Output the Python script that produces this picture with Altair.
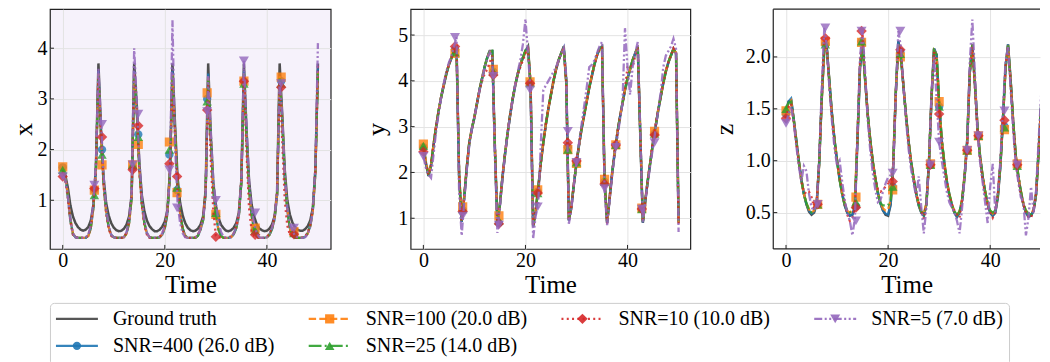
import altair as alt
import pandas as pd

FONT = "Liberation Serif"

SERIES = ["Ground truth", "SNR=400 (26.0 dB)", "SNR=100 (20.0 dB)",
          "SNR=25 (14.0 dB)", "SNR=10 (10.0 dB)", "SNR=5 (7.0 dB)"]
COLORS = ["#444444", "#1f77b4", "#ff7f0e", "#2ca02c", "#d62728", "#9467bd"]
DASHES = [[1, 0], [1, 0], [7.4, 3.2], [12.8, 3.2, 2, 3.2], [2, 3.3], [8, 2.5, 2, 2.5, 2, 2.5]]
SHAPES = [None, "circle", "square", "triangle-up", "diamond", "triangle-down"]
MSIZE = [0, 70, 85, 90, 110, 100]

TIME = [k / 2 for k in range(101)]
MARK_TIME = [0, 6.2, 7.7, 13.7, 14.8, 20.9, 22.4, 28.3, 30.0, 35.5, 37.7, 42.8, 45.3]

XTICKS = [0, 20, 40]

# ---------------- x ----------------
X_GT = [1.55,1.50,1.25,0.90,0.68,0.55,0.47,0.42,0.40,0.42,
        0.47,0.60,0.90,1.65,3.70,2.40,1.45,0.95,0.70,0.55,
        0.46,0.41,0.39,0.40,0.44,0.52,0.68,1.10,3.70,2.90,
        1.75,1.10,0.78,0.60,0.49,0.43,0.39,0.39,0.42,0.48,
        0.58,0.80,1.55,3.70,2.50,1.45,0.95,0.70,0.55,0.46,
        0.41,0.39,0.40,0.44,0.52,0.68,1.20,3.70,2.30,1.35,
        0.90,0.66,0.52,0.45,0.40,0.39,0.41,0.46,0.55,0.75,
        1.40,3.70,2.40,1.40,0.92,0.68,0.53,0.45,0.41,0.39,
        0.40,0.44,0.52,0.68,1.15,3.70,2.70,1.60,1.00,0.72,
        0.56,0.47,0.42,0.40,0.40,0.43,0.49,0.60,0.85,1.60,
        3.70]
X_400 = [1.63,1.45,1.10,0.62,0.34,0.27,0.26,0.26,0.26,0.26,
         0.30,0.45,0.85,1.60,3.55,2.30,1.35,0.80,0.48,0.32,
         0.27,0.26,0.26,0.26,0.27,0.35,0.55,1.05,3.55,2.80,
         1.65,0.95,0.55,0.35,0.27,0.26,0.26,0.26,0.27,0.32,
         0.45,0.72,1.50,3.55,2.40,1.30,0.75,0.45,0.30,0.26,
         0.26,0.26,0.26,0.30,0.42,0.60,1.15,3.50,2.20,1.20,
         0.70,0.42,0.29,0.26,0.26,0.26,0.27,0.33,0.45,0.68,
         1.35,3.55,2.30,1.25,0.72,0.43,0.29,0.26,0.26,0.26,
         0.27,0.32,0.43,0.62,1.10,3.45,2.60,1.45,0.80,0.45,
         0.30,0.26,0.26,0.26,0.26,0.28,0.35,0.50,0.80,1.55,
         3.60]
X_100 = [1.66,1.47,1.12,0.64,0.35,0.27,0.26,0.26,0.26,0.26,
         0.29,0.44,0.83,1.58,3.50,2.25,1.32,0.78,0.47,0.31,
         0.27,0.26,0.26,0.26,0.27,0.34,0.54,1.02,3.50,2.75,
         1.62,0.93,0.54,0.34,0.27,0.26,0.26,0.26,0.27,0.33,
         0.46,0.75,1.55,3.50,2.38,1.28,0.74,0.44,0.29,0.26,
         0.26,0.26,0.26,0.31,0.43,0.62,1.18,3.45,2.25,1.22,
         0.72,0.43,0.29,0.26,0.26,0.26,0.27,0.34,0.46,0.70,
         1.38,3.50,2.28,1.24,0.71,0.44,0.30,0.26,0.26,0.26,
         0.27,0.32,0.44,0.64,1.12,3.45,2.65,1.48,0.82,0.46,
         0.31,0.26,0.26,0.26,0.26,0.28,0.34,0.49,0.78,1.52,
         3.55]
X_25 = [1.60,1.44,1.08,0.60,0.33,0.27,0.26,0.26,0.26,0.26,
        0.30,0.46,0.86,1.62,3.45,2.28,1.34,0.79,0.47,0.31,
        0.27,0.26,0.26,0.26,0.27,0.35,0.56,1.06,3.45,2.78,
        1.64,0.94,0.55,0.35,0.27,0.26,0.26,0.26,0.27,0.32,
        0.45,0.73,1.52,3.45,2.36,1.27,0.74,0.45,0.30,0.26,
        0.26,0.26,0.26,0.30,0.42,0.61,1.16,3.40,2.22,1.21,
        0.73,0.44,0.30,0.26,0.26,0.26,0.27,0.33,0.45,0.69,
        1.36,3.50,2.27,1.23,0.70,0.42,0.29,0.26,0.26,0.26,
        0.27,0.32,0.43,0.63,1.11,3.40,2.58,1.44,0.80,0.45,
        0.30,0.26,0.26,0.26,0.26,0.28,0.35,0.50,0.81,1.56,
        3.50]
X_10 = [1.47,1.40,1.05,0.58,0.32,0.27,0.26,0.26,0.26,0.26,
        0.31,0.48,0.90,1.65,3.45,2.35,1.30,0.75,0.44,0.30,
        0.26,0.26,0.26,0.26,0.28,0.36,0.58,1.10,3.50,2.85,
        1.60,0.90,0.50,0.32,0.26,0.26,0.26,0.26,0.28,0.34,
        0.48,0.78,1.50,3.40,2.30,1.25,0.70,0.42,0.28,0.26,
        0.26,0.26,0.27,0.32,0.45,0.64,1.20,3.30,1.80,0.80,
        0.30,0.27,0.26,0.26,0.26,0.27,0.29,0.35,0.48,0.72,
        1.40,3.45,2.00,0.85,0.40,0.30,0.26,0.26,0.26,0.26,
        0.28,0.34,0.46,0.66,1.15,3.35,2.20,1.00,0.50,0.32,
        0.30,0.27,0.26,0.26,0.27,0.29,0.36,0.52,0.85,1.60,
        3.65]
X_5 = [1.47,1.42,1.08,0.62,0.35,0.27,0.26,0.26,0.26,0.27,
       0.32,0.50,0.95,1.70,3.60,2.55,1.50,0.85,0.50,0.32,
       0.27,0.26,0.26,0.26,0.28,0.37,0.60,1.15,4.00,2.95,
       1.80,1.05,0.60,0.36,0.27,0.26,0.26,0.26,0.28,0.35,
       0.50,0.80,1.45,4.55,2.10,0.95,0.55,0.35,0.27,0.26,
       0.26,0.26,0.27,0.31,0.44,0.62,1.10,3.45,2.40,1.40,
       0.95,0.60,0.38,0.28,0.26,0.26,0.27,0.34,0.48,0.72,
       1.40,3.75,2.50,1.40,0.80,0.55,0.35,0.27,0.26,0.26,
       0.27,0.33,0.45,0.66,1.15,3.35,2.70,1.50,0.85,0.52,
       0.40,0.30,0.27,0.26,0.26,0.27,0.33,0.48,0.80,1.65,
       4.10]
XM_400 = [1.65,1.20,2.00,1.65,2.30,1.90,1.20,3.00,0.72,3.35,0.42,3.35,0.35]
XM_100 = [1.66,1.20,1.70,1.70,2.10,2.15,1.15,3.12,0.72,3.35,0.45,3.43,0.38]
XM_25 = [1.60,1.10,1.90,1.70,2.25,2.00,1.25,2.95,0.75,3.30,0.40,3.30,0.35]
XM_10 = [1.47,1.23,2.25,1.60,2.47,1.72,1.47,2.78,0.28,3.35,0.32,3.23,0.33]
XM_5 = [1.47,1.30,2.50,1.70,2.70,1.60,0.85,2.75,1.00,3.75,0.75,3.30,0.45]

# ---------------- y ----------------
Y_GT = [2.55,2.20,1.92,2.15,2.60,3.00,3.35,3.65,3.90,4.15,
        4.35,4.50,4.65,4.72,1.90,0.92,1.45,2.10,2.65,2.95,
        3.20,3.50,3.80,4.05,4.30,4.50,4.65,4.65,2.60,0.85,
        1.30,1.90,2.40,2.85,3.25,3.60,3.90,4.15,4.35,4.50,
        4.65,4.75,3.90,0.82,1.15,1.65,2.20,2.65,3.05,3.40,
        3.70,4.00,4.25,4.45,4.60,4.75,4.00,0.95,1.25,1.75,
        2.20,2.60,2.95,3.25,3.55,3.85,4.10,4.35,4.55,4.70,
        4.75,1.80,0.90,1.45,2.00,2.45,2.85,3.20,3.50,3.80,
        4.05,4.25,4.45,4.60,4.75,2.80,0.90,1.40,1.85,2.25,
        2.65,3.00,3.35,3.65,3.95,4.20,4.40,4.55,4.70,4.60,
        0.90]
Y_400 = [2.55,2.20,1.93,2.15,2.60,3.00,3.35,3.65,3.92,4.15,
         4.35,4.50,4.65,4.70,1.95,0.92,1.45,2.10,2.65,2.95,
         3.20,3.50,3.80,4.05,4.30,4.50,4.65,4.65,2.55,0.86,
         1.30,1.90,2.40,2.85,3.25,3.60,3.90,4.15,4.35,4.50,
         4.65,4.72,3.90,0.84,1.15,1.65,2.20,2.65,3.05,3.40,
         3.70,4.00,4.25,4.45,4.60,4.72,3.95,0.95,1.25,1.75,
         2.20,2.60,2.95,3.25,3.55,3.85,4.10,4.35,4.55,4.70,
         4.72,1.80,0.90,1.45,2.00,2.45,2.85,3.20,3.50,3.80,
         4.05,4.25,4.45,4.60,4.72,2.80,0.91,1.40,1.85,2.25,
         2.65,3.00,3.35,3.65,3.95,4.20,4.40,4.55,4.68,4.60,
         0.92]
Y_100 = [2.62,2.25,1.95,2.17,2.62,3.02,3.36,3.66,3.92,4.16,
         4.36,4.51,4.64,4.68,2.00,0.95,1.47,2.12,2.66,2.96,
         3.21,3.51,3.81,4.06,4.31,4.50,4.64,4.64,2.60,0.88,
         1.32,1.92,2.41,2.86,3.26,3.61,3.91,4.16,4.36,4.50,
         4.64,4.72,3.95,0.85,1.17,1.67,2.21,2.66,3.06,3.41,
         3.71,4.01,4.26,4.46,4.60,4.70,3.90,0.97,1.27,1.77,
         2.21,2.61,2.96,3.26,3.56,3.86,4.11,4.36,4.55,4.68,
         4.70,1.85,0.92,1.47,2.01,2.46,2.86,3.21,3.51,3.81,
         4.06,4.26,4.46,4.60,4.70,2.85,0.93,1.42,1.87,2.27,
         2.67,3.02,3.36,3.66,3.96,4.21,4.41,4.55,4.68,4.62,
         0.92]
Y_25 = [2.58,2.22,1.94,2.16,2.61,3.01,3.36,3.66,3.91,4.16,
        4.36,4.50,4.64,4.70,1.98,0.93,1.46,2.11,2.66,2.96,
        3.22,3.52,3.82,4.06,4.31,4.51,4.66,4.66,2.58,0.87,
        1.31,1.91,2.42,2.87,3.27,3.62,3.92,4.17,4.37,4.52,
        4.67,4.74,3.92,0.84,1.16,1.66,2.21,2.66,3.06,3.41,
        3.71,4.01,4.26,4.46,4.61,4.74,3.98,0.96,1.26,1.76,
        2.21,2.61,2.96,3.26,3.56,3.86,4.11,4.36,4.56,4.71,
        4.74,1.82,0.91,1.46,2.01,2.46,2.86,3.21,3.51,3.81,
        4.06,4.26,4.46,4.61,4.74,2.82,0.92,1.41,1.86,2.26,
        2.66,3.01,3.36,3.66,3.96,4.21,4.41,4.56,4.71,4.62,
        0.90]
Y_10 = [2.45,2.18,1.95,2.18,2.62,3.02,3.36,3.66,3.92,4.16,
        4.36,4.50,4.62,4.70,2.05,0.95,1.46,2.12,2.66,2.96,
        3.22,3.52,3.80,4.00,4.15,4.25,4.40,4.55,2.65,0.86,
        1.32,1.92,2.42,2.87,3.27,3.62,3.92,4.15,4.30,4.45,
        4.60,4.70,3.95,0.82,1.15,1.62,2.18,2.66,3.06,3.41,
        3.71,4.01,4.26,4.46,4.60,4.72,3.95,0.95,1.25,1.75,
        2.25,2.60,2.95,3.25,3.55,3.85,4.10,4.35,4.55,4.70,
        4.72,1.75,0.88,1.45,2.00,2.50,2.85,3.20,3.50,3.85,
        4.30,4.35,4.30,4.55,4.75,2.80,0.92,1.40,1.85,2.28,
        2.75,3.05,3.38,3.66,3.96,4.21,4.41,4.56,4.71,4.62,
        0.88]
Y_5 = [2.35,2.10,1.95,1.88,2.40,2.90,3.30,3.65,3.95,4.20,
       4.40,4.55,4.75,4.95,1.60,0.62,1.35,2.05,2.60,2.95,
       3.20,3.50,3.80,4.05,4.28,4.48,4.62,4.55,2.40,0.68,
       1.25,1.85,2.40,2.85,3.25,3.60,3.92,4.20,4.45,4.80,
       5.35,4.60,3.75,0.55,1.05,1.30,2.60,3.80,3.90,4.00,
       4.10,4.20,4.30,4.45,4.60,4.72,4.10,0.88,1.20,1.75,
       2.20,2.65,3.05,3.45,3.85,4.30,4.35,4.45,4.60,4.75,
       4.85,1.60,0.85,1.40,1.95,2.40,2.75,3.15,3.50,5.15,
       4.30,3.70,4.30,4.60,4.85,2.90,0.90,1.40,1.80,2.20,
       2.55,2.95,3.35,3.75,4.30,4.55,4.65,4.75,4.92,4.70,
       0.70]
YM_400 = [2.55,4.68,1.18,4.20,0.90,3.95,1.58,2.55,2.22,1.80,2.60,1.22,2.85]
YM_100 = [2.62,4.60,1.25,4.25,1.05,3.98,1.62,2.50,2.20,1.85,2.60,1.22,2.90]
YM_25 = [2.58,4.62,1.20,4.20,0.95,3.95,1.55,2.50,2.22,1.80,2.60,1.20,2.85]
YM_10 = [2.45,4.75,1.15,4.13,0.88,3.95,1.55,2.65,2.25,1.75,2.60,1.20,2.82]
YM_5 = [2.35,4.95,1.05,4.10,0.85,3.80,1.25,2.90,2.22,1.65,2.55,1.20,2.65]

# ---------------- z ----------------
Z_GT = [1.47,1.57,1.58,1.40,1.20,1.00,0.82,0.68,0.58,0.51,
        0.48,0.50,0.58,0.98,1.60,2.08,2.08,1.76,1.45,1.20,
        1.00,0.82,0.68,0.57,0.50,0.47,0.48,0.55,1.20,1.90,
        2.12,1.78,1.45,1.20,0.99,0.83,0.69,0.59,0.52,0.48,
        0.47,0.58,0.95,1.65,2.15,2.02,1.72,1.44,1.19,0.99,
        0.83,0.68,0.57,0.50,0.47,0.58,0.98,1.60,2.08,2.02,
        1.55,1.20,0.98,0.80,0.67,0.57,0.50,0.46,0.50,0.62,
        0.85,1.20,1.85,2.12,1.75,1.33,1.05,0.85,0.70,0.58,
        0.50,0.47,0.50,0.65,0.95,1.40,1.90,2.12,1.78,1.38,
        1.05,0.85,0.70,0.58,0.50,0.46,0.47,0.52,0.68,1.10,
        1.55]
Z_400 = [1.45,1.57,1.60,1.41,1.20,1.00,0.82,0.68,0.58,0.52,
         0.49,0.51,0.58,0.98,1.60,2.08,2.08,1.76,1.45,1.20,
         1.00,0.82,0.68,0.57,0.50,0.47,0.48,0.56,1.21,1.90,
         2.12,1.78,1.45,1.20,0.99,0.83,0.69,0.59,0.52,0.49,
         0.48,0.58,0.95,1.65,2.15,2.02,1.72,1.44,1.19,0.99,
         0.83,0.68,0.57,0.50,0.47,0.58,0.98,1.60,2.08,2.02,
         1.55,1.20,0.98,0.80,0.67,0.57,0.50,0.46,0.50,0.62,
         0.85,1.20,1.85,2.12,1.75,1.33,1.05,0.85,0.70,0.58,
         0.50,0.47,0.50,0.65,0.95,1.40,1.90,2.12,1.78,1.38,
         1.05,0.85,0.70,0.58,0.50,0.47,0.47,0.52,0.68,1.10,
         1.55]
Z_100 = [1.48,1.55,1.58,1.40,1.20,1.00,0.82,0.68,0.59,0.53,
         0.50,0.52,0.58,0.97,1.58,2.06,2.08,1.76,1.45,1.20,
         1.00,0.82,0.68,0.58,0.52,0.50,0.52,0.65,1.25,1.92,
         2.13,1.78,1.45,1.20,0.99,0.83,0.69,0.60,0.54,0.52,
         0.53,0.62,0.96,1.65,2.12,2.00,1.72,1.44,1.19,0.99,
         0.83,0.69,0.58,0.51,0.49,0.59,0.98,1.60,2.06,2.02,
         1.57,1.21,0.99,0.81,0.68,0.58,0.51,0.48,0.51,0.63,
         0.86,1.20,1.84,2.12,1.76,1.34,1.05,0.86,0.71,0.59,
         0.52,0.49,0.52,0.66,0.96,1.38,1.88,2.11,1.78,1.38,
         1.06,0.86,0.71,0.59,0.52,0.49,0.49,0.53,0.69,1.10,
         1.55]
Z_25 = [1.50,1.56,1.57,1.40,1.20,1.00,0.82,0.68,0.59,0.53,
        0.50,0.52,0.58,0.98,1.60,2.10,2.08,1.76,1.45,1.20,
        1.00,0.82,0.68,0.58,0.52,0.50,0.52,0.60,1.22,1.90,
        2.12,1.78,1.45,1.20,0.99,0.83,0.69,0.59,0.57,0.57,
        0.57,0.62,0.95,1.65,2.12,2.00,1.72,1.44,1.19,0.99,
        0.83,0.69,0.58,0.51,0.48,0.58,0.98,1.60,2.06,2.02,
        1.57,1.21,0.99,0.81,0.68,0.58,0.51,0.48,0.51,0.62,
        0.86,1.20,1.84,2.12,1.76,1.34,1.05,0.86,0.71,0.59,
        0.52,0.50,0.52,0.66,0.96,1.38,1.88,2.11,1.78,1.38,
        1.06,0.86,0.71,0.59,0.52,0.49,0.48,0.52,0.68,1.10,
        1.55]
Z_10 = [1.41,1.52,1.55,1.38,1.18,0.98,0.80,0.70,0.68,0.70,
        0.65,0.55,0.58,1.00,1.62,2.18,2.08,1.72,1.42,1.18,
        0.98,0.85,0.72,0.60,0.48,0.42,0.45,0.54,1.22,1.95,
        2.22,1.80,1.45,1.18,0.97,0.82,0.72,0.70,0.72,0.75,
        0.78,0.80,0.95,1.65,2.07,2.05,1.72,1.44,1.18,0.98,
        0.82,0.68,0.60,0.52,0.44,0.58,0.97,1.62,2.05,1.90,
        1.45,1.15,0.95,0.80,0.67,0.58,0.52,0.48,0.45,0.62,
        0.88,1.12,1.85,2.10,1.70,1.28,1.02,0.82,0.68,0.55,
        0.50,0.45,0.50,0.68,0.98,1.40,1.90,2.10,1.75,1.35,
        0.98,0.82,0.68,0.58,0.50,0.46,0.45,0.52,0.68,1.10,
        1.50]
Z_5 = [1.36,1.45,1.52,1.38,1.15,0.95,0.80,0.95,0.90,0.68,
       0.55,0.52,0.58,1.00,1.70,2.28,2.10,1.70,1.38,1.12,
       0.95,1.00,0.80,0.62,0.50,0.42,0.28,0.45,1.25,2.00,
       2.25,1.85,1.40,1.10,0.88,0.72,0.60,0.62,0.70,0.78,
       0.84,0.86,0.90,1.60,2.25,2.10,1.72,1.40,1.12,0.92,
       0.78,0.66,0.85,0.55,0.30,0.55,0.98,1.65,2.00,1.60,
       1.18,1.00,0.85,0.70,0.60,0.55,0.50,0.42,0.30,0.55,
       0.85,1.15,1.95,2.36,1.85,1.30,1.00,0.80,0.60,0.40,
       0.75,0.97,0.50,0.70,1.00,1.48,1.95,2.10,1.70,1.30,
       0.98,0.80,0.65,0.60,0.28,0.45,0.75,0.50,0.72,1.20,
       1.65]
ZM_400 = [1.45,0.58,2.12,0.56,2.15,0.75,2.05,0.96,1.52,1.10,1.24,1.33,0.96]
ZM_100 = [1.48,0.58,2.15,0.65,2.14,0.72,2.00,0.97,1.57,1.10,1.24,1.30,0.97]
ZM_25 = [1.50,0.58,2.12,0.60,2.15,0.75,2.03,0.96,1.52,1.10,1.24,1.32,0.95]
ZM_10 = [1.41,0.58,2.18,0.55,2.25,0.80,2.07,0.96,1.45,1.10,1.24,1.39,0.96]
ZM_5 = [1.36,0.58,2.28,0.42,2.25,0.88,2.25,0.96,1.18,1.10,1.24,1.48,0.96]

LINES = {
    "x": [X_GT, X_400, X_100, X_25, X_10, X_5],
    "y": [Y_GT, Y_400, Y_100, Y_25, Y_10, Y_5],
    "z": [Z_GT, Z_400, Z_100, Z_25, Z_10, Z_5],
}
MARKS = {
    "x": [None, XM_400, XM_100, XM_25, XM_10, XM_5],
    "y": [None, YM_400, YM_100, YM_25, YM_10, YM_5],
    "z": [None, ZM_400, ZM_100, ZM_25, ZM_10, ZM_5],
}

H = 240
PX_PER_T = 281 / 55.0


def panel(var, width, ydom, yticks, yfmt, bg, tpad, open_right=False):
    xdom = [-2.5, -2.5 + width / PX_PER_T]
    X = alt.X("t:Q", scale=alt.Scale(domain=xdom, nice=False, zero=False),
              axis=alt.Axis(values=XTICKS, title="Time", format="d", ticks=False, domain=False,
                            labelFont=FONT, labelFontSize=20, labelPadding=2, labelColor="black",
                            titleFont=FONT, titleFontSize=25, titleFontWeight="normal",
                            titlePadding=2, titleColor="black",
                            gridColor="#e3e3e3", gridWidth=1))
    Y = alt.Y("value:Q", scale=alt.Scale(domain=ydom, nice=False, zero=False),
              axis=alt.Axis(values=yticks, title=var, format=yfmt, ticks=False, domain=False,
                            labelFont=FONT, labelFontSize=20, labelPadding=3, labelColor="black",
                            titleFont=FONT, titleFontSize=26, titleFontWeight="normal",
                            titlePadding=tpad, titleColor="black",
                            gridColor="#e3e3e3", gridWidth=1))
    layers = [
        alt.Chart(pd.DataFrame({"t": XTICKS})).mark_rule(color="#222", strokeWidth=1).encode(
            x=X, y=alt.value(H), y2=alt.value(H - 4)),
        alt.Chart(pd.DataFrame({"value": yticks})).mark_rule(color="#222", strokeWidth=1).encode(
            y=Y, x=alt.value(0), x2=alt.value(4)),
    ]
    for i, name in enumerate(SERIES):
        d = pd.DataFrame({"t": TIME, "value": LINES[var][i]})
        layers.append(
            alt.Chart(d).mark_line(color=COLORS[i], strokeDash=DASHES[i],
                                   strokeWidth=2.5 if i == 0 else 2.3,
                                   opacity=0.95 if i == 0 else 0.85, clip=True).encode(x=X, y=Y))
        if SHAPES[i]:
            m = pd.DataFrame({"t": MARK_TIME, "value": MARKS[var][i]})
            layers.append(
                alt.Chart(m).mark_point(shape=SHAPES[i], filled=True, size=MSIZE[i],
                                        color=COLORS[i], opacity=0.8, clip=True).encode(x=X, y=Y))
    if open_right:
        frame = dict(color="#222222", strokeWidth=1.2)
        layers.append(alt.Chart(pd.DataFrame({"t": [0]})).mark_rule(**frame).encode(
            x=alt.value(0), y=alt.value(0), y2=alt.value(H)))
        layers.append(alt.Chart(pd.DataFrame({"t": [0]})).mark_rule(**frame).encode(
            x=alt.value(0), x2=alt.value(width), y=alt.value(0)))
        layers.append(alt.Chart(pd.DataFrame({"t": [0]})).mark_rule(**frame).encode(
            x=alt.value(0), x2=alt.value(width), y=alt.value(H)))
        view = alt.ViewBackground(fill=bg, stroke="transparent")
    else:
        view = alt.ViewBackground(fill=bg, stroke="#222222", strokeWidth=1.2)
    return alt.layer(*layers).properties(width=width, height=H, view=view)


p1 = panel("x", 281, [0.04, 4.77], [1, 2, 3, 4], "d", "#f6f2fb", 0)
p2 = panel("y", 280, [0.33, 5.565], [1, 2, 3, 4, 5], "d", "white", 8)
p3 = panel("z", 267, [0.15, 2.46], [0.5, 1.0, 1.5, 2.0], ".1f", "white", 8, open_right=True)

# ---------------- legend ----------------
LEG_COL = [0, 0, 1, 1, 2, 3]
LEG_ROW = [0, 1, 0, 1, 0, 0]
LX = alt.X("c:Q", scale=alt.Scale(domain=[0, 3], range=[6, 765]),
           axis=None)
LY = alt.Y("r:Q", scale=alt.Scale(domain=[0, 1], range=[16, 43]),
           axis=alt.Axis(title=None, labels=False, ticks=False, grid=False, domain=True,
                         domainOpacity=0, offset=41))
leg_layers = []
for i, name in enumerate(SERIES):
    d = pd.DataFrame({"c": [LEG_COL[i]], "r": [LEG_ROW[i]], "label": [name]})
    leg_layers.append(alt.Chart(d).mark_rule(color=COLORS[i], strokeDash=DASHES[i], strokeWidth=2.3,
                                             opacity=0.9, x2Offset=42).encode(x=LX, x2="c:Q", y=LY))
    if SHAPES[i]:
        leg_layers.append(alt.Chart(d).mark_point(shape=SHAPES[i], filled=True, size=MSIZE[i],
                                                  color=COLORS[i], opacity=0.9, xOffset=21).encode(x=LX, y=LY))
    leg_layers.append(alt.Chart(d).mark_text(align="left", baseline="middle", dx=57, font=FONT,
                                             fontSize=20, color="black").encode(x=LX, y=LY, text="label:N"))
legend = alt.layer(*leg_layers).properties(
    width=960, height=62,
    view=alt.ViewBackground(fill="white", stroke="#cccccc", strokeWidth=1, cornerRadius=4))

left_pair = alt.hconcat(p1, p2, spacing=31)
top = alt.hconcat(left_pair, p3, spacing=19)
chart = alt.vconcat(top, legend, spacing=3).properties(
    padding={"left": 0, "top": -1, "right": 0, "bottom": 0}).configure(font=FONT)

chart.save("out.html", embed_options={"renderer": "svg", "actions": False})
